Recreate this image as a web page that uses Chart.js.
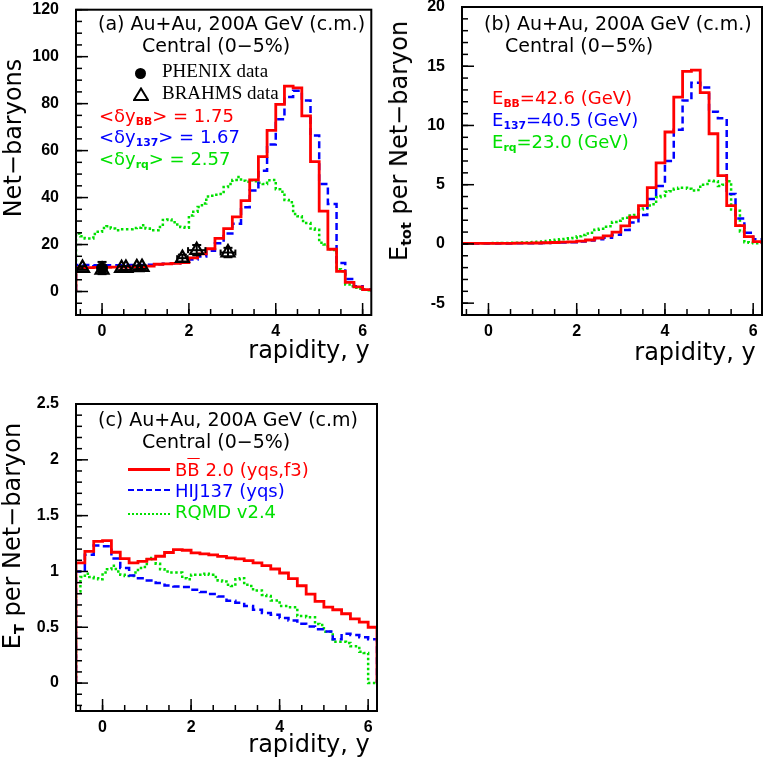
<!DOCTYPE html>
<html lang="en">
<head>
<meta charset="UTF-8">
<title>Net-baryons and energy per net-baryon vs rapidity</title>
<script src="https://cdn.jsdelivr.net/npm/chart.js@4.4.0/dist/chart.umd.min.js"></script>
<style>
  *{margin:0;padding:0;box-sizing:border-box;}
  body{width:763px;height:763px;background:#fff;position:relative;overflow:hidden;font-family:'DejaVu Sans',sans-serif;color:#000;}
  canvas{position:absolute;}
  .t{position:absolute;white-space:nowrap;line-height:1;font-size:18px;}
  .h{font-size:19px;}
  .s{position:absolute;white-space:nowrap;line-height:1;font-size:19px;font-family:'Liberation Serif',serif;}
  .ax{position:absolute;white-space:nowrap;line-height:1;font-size:24px;}
  .rot{transform:translate(-50%,-50%) rotate(-90deg);}
  .hc{transform:translateX(-50%);}
  sub{font-size:60%;line-height:0;vertical-align:-0.3em;font-weight:bold;}
  .red{color:#f00;} .blue{color:#00f;} .green{color:#00e000;}
  .dot{position:absolute;width:11px;height:11px;border-radius:50%;background:#000;}
  .mk{position:absolute;}
  .lg{position:absolute;width:42px;height:0;}
  .ov{text-decoration:overline;}
</style>
</head>
<body>
<canvas id="pa" width="381" height="381" style="left:0;top:0"></canvas>
<canvas id="pb" width="382" height="381" style="left:381px;top:0"></canvas>
<canvas id="pc" width="381" height="382" style="left:0;top:381px"></canvas>

<!-- panel (a) texts -->
<div class="ax rot" style="left:12.5px;top:137.5px">Net−baryons</div>
<div class="ax hc" style="left:309px;top:338px">rapidity, y</div>
<div class="t h" style="left:98px;top:13.5px">(a) Au+Au, 200A GeV (c.m.)</div>
<div class="t h" style="left:142px;top:36px">Central (0−5%)</div>
<div class="dot" style="left:134.5px;top:67.5px"></div>
<div class="s" style="left:162px;top:61.4px">PHENIX data</div>
<svg class="mk" style="left:133px;top:87px" width="16" height="14"><polygon points="8,1.5 15,13 1,13" fill="none" stroke="#000" stroke-width="2"/></svg>
<div class="s" style="left:162px;top:83.4px">BRAHMS data</div>
<div class="t red" style="left:99px;top:106.5px">&lt;δy<sub>BB</sub>&gt; = 1.75</div>
<div class="t blue" style="left:99px;top:128px">&lt;δy<sub>137</sub>&gt; = 1.67</div>
<div class="t green" style="left:99px;top:149.8px">&lt;δy<sub>rq</sub>&gt; = 2.57</div>

<!-- panel (b) texts -->
<div class="ax rot" style="left:398.5px;top:141px">E<sub>tot</sub> per Net−baryon</div>
<div class="ax hc" style="left:695px;top:339.7px">rapidity, y</div>
<div class="t h" style="left:484px;top:14.3px">(b) Au+Au, 200A GeV (c.m.)</div>
<div class="t h" style="left:505px;top:36px">Central (0−5%)</div>
<div class="t red" style="left:492px;top:88.8px">E<sub>BB</sub>=42.6 (GeV)</div>
<div class="t blue" style="left:492px;top:110.8px">E<sub>137</sub>=40.5 (GeV)</div>
<div class="t green" style="left:492px;top:132.5px">E<sub>rq</sub>=23.0 (GeV)</div>

<!-- panel (c) texts -->
<div class="ax rot" style="left:12px;top:536px">E<sub>T</sub> per Net−baryon</div>
<div class="ax hc" style="left:309px;top:732.4px">rapidity, y</div>
<div class="t h" style="left:98px;top:410.3px">(c) Au+Au, 200A GeV (c.m)</div>
<div class="t h" style="left:142px;top:431.5px">Central (0−5%)</div>
<div class="lg" style="left:128px;top:468px;border-top:3px solid #f00"></div>
<div class="t red" style="left:175px;top:460.5px">B<span class="ov">B</span> 2.0 (yqs,f3)</div>
<div class="lg" style="left:128px;top:489px;border-top:2.5px dashed #00f"></div>
<div class="t blue" style="left:175px;top:481.5px">HIJ137 (yqs)</div>
<div class="lg" style="left:128px;top:513px;border-top:2.5px dotted #00e000"></div>
<div class="t green" style="left:175px;top:503px">RQMD v2.4</div>

<script>
// histogram binning (left edge of first bin, bin widths)
const X_MIN = -0.6;
const WIDE = 0.2;   // red / blue histograms
const FINE = 0.1;   // green histograms

// x axis ticks (same for all panels)
const xTickVals = [0, 2, 4, 6];
const xTickLabels = ['0', '2', '4', '6'];

// ---- panel (a): net-baryons ----
const yTickValsA = [0, 20, 40, 60, 80, 100, 120];
const yTickLabelsA = ['0', '20', '40', '60', '80', '100', '120'];
const redA = [10.2, 10.2, 10.3, 10.3, 10.4, 10.4, 10.5, 10.6, 10.8, 11.6, 11.8, 12.0, 12.3, 14.3, 16.0, 18.2,
  22.6, 26.8, 31.8, 38.7, 47.5, 57.4, 68.6, 79.7, 87.5, 86.7, 74.8, 55.3, 34.2, 18.0, 8.6, 3.9, 2.0, 0.8];
const blueA = [11.3, 11.3, 11.2, 11.2, 11.2, 11.2, 11.3, 11.3, 11.4, 11.6, 11.8, 12.0, 12.5, 13.6, 14.9, 17.4,
  20.5, 24.7, 28.9, 35.9, 43.0, 51.4, 62.6, 73.4, 82.8, 85.5, 81.3, 66.4, 45.8, 37.3, 12.1, 5.3, 2.2, 0.9];
const greenA = [24.7, 23.5, 22.6, 22.6, 24.5, 25.4,
  27.0, 27.8, 26.8, 26.1, 26.5, 26.5, 26.5, 27.0, 27.2, 28.2,
  26.8, 26.1, 26.1, 27.5, 30.5, 30.7, 29.5, 28.5, 27.5, 27.2,
  32.4, 34.0, 36.0, 37.5, 40.5, 40.8, 41.2, 41.5, 44.5, 45.8,
  47.5, 48.8, 47.2, 46.7, 47.4, 47.0, 46.3, 45.8, 47.4, 47.5,
  43.5, 42.5, 39.0, 38.0, 33.0, 32.0, 30.0, 29.2, 26.8, 26.3,
  20.8, 20.0, 18.0, 17.7, 9.5, 8.6, 3.0, 2.2, 1.6, 1.2,
  0.8, 0.5];
const phenixX = [0.0];
const phenixY = [10.0];
const phenixErrY = [2.6];
const brahmsX = [-0.45, 0.0, 0.45, 0.55, 0.8, 0.92, 1.85, 2.18, 2.9];
const brahmsY = [10.0, 9.2, 9.9, 10.0, 10.3, 10.4, 14.2, 17.6, 16.6];
const brahmsErrY = [0.8, 1.0, 0.8, 0.8, 0.8, 0.8, 1.5, 2.2, 2.0];
const brahmsErrX = [0, 0, 0, 0, 0, 0, 0.12, 0.2, 0.17];

// ---- panel (b): total energy per net-baryon ----
const yTickValsB = [-5, 0, 5, 10, 15, 20];
const yTickLabelsB = ['-5', '0', '5', '10', '15', '20'];
const redB = [0.05, 0.05, 0.05, 0.05, 0.05, 0.05, 0.06, 0.07, 0.08, 0.1, 0.12, 0.15, 0.18, 0.23, 0.33, 0.5,
  0.68, 0.99, 1.52, 2.25, 3.24, 4.76, 6.85, 9.45, 12.4, 14.57, 14.67, 12.77, 9.3, 5.77, 3.24, 1.55, 0.62, 0.2];
const blueB = [0.04, 0.04, 0.04, 0.04, 0.04, 0.04, 0.05, 0.05, 0.06, 0.07, 0.09, 0.11, 0.14, 0.2, 0.28, 0.4,
  0.53, 0.78, 1.18, 1.8, 2.45, 3.8, 4.9, 7.0, 9.64, 12.1, 13.6, 13.2, 11.15, 10.6, 4.22, 2.15, 0.95, 0.4];
const greenB = [0.05, 0.05, 0.05, 0.05, 0.05, 0.06,
  0.06, 0.07, 0.07, 0.08, 0.08, 0.09, 0.1, 0.11, 0.12, 0.14,
  0.16, 0.18, 0.21, 0.25, 0.3, 0.35, 0.39, 0.42, 0.47, 0.5,
  0.65, 0.75, 0.88, 0.95, 1.2, 1.28, 1.45, 1.5, 1.85, 1.95,
  2.15, 2.2, 2.4, 2.45, 2.9, 3.0, 3.25, 3.35, 3.95, 4.05,
  4.4, 4.45, 4.65, 4.75, 4.75, 4.65, 4.5, 4.55, 5.0, 5.05,
  5.33, 5.3, 4.9, 5.0, 5.3, 2.9, 2.8, 1.05, 0.15, 0.1,
  0.05, 0.05];

// ---- panel (c): transverse energy per net-baryon ----
const yTickValsC = [0, 0.5, 1, 1.5, 2, 2.5];
const yTickLabelsC = ['0', '0.5', '1', '1.5', '2', '2.5'];
const redC = [1.076, 1.18, 1.27, 1.277, 1.172, 1.115, 1.076, 1.09, 1.11, 1.136, 1.17, 1.196, 1.19, 1.166, 1.157, 1.148,
  1.135, 1.122, 1.112, 1.097, 1.076, 1.052, 1.022, 0.986, 0.935, 0.872, 0.797, 0.732, 0.681, 0.657, 0.621, 0.576, 0.546, 0.5];
const blueC = [1.0, 1.15, 1.232, 1.226, 1.115, 1.03, 0.963, 0.94, 0.92, 0.896, 0.875, 0.866, 0.86, 0.836, 0.815, 0.797,
  0.776, 0.737, 0.72, 0.69, 0.657, 0.627, 0.612, 0.582, 0.561, 0.531, 0.507, 0.483, 0.462, 0.393, 0.441, 0.43, 0.41, 0.393];
const greenC = [0.82, 0.95, 0.98, 0.95, 0.94, 0.93,
  0.99, 1.02, 1.05, 1.0, 0.97, 0.96, 0.96, 0.99, 1.03, 1.04,
  1.11, 1.12, 1.07, 1.02, 1.0, 0.99, 0.99, 0.99, 0.94, 0.93,
  0.97, 0.97, 0.97, 0.98, 0.97, 0.95, 0.92, 0.91, 0.88, 0.87,
  0.93, 0.94, 0.88, 0.87, 0.83, 0.83, 0.79, 0.78, 0.74, 0.74,
  0.69, 0.69, 0.68, 0.68, 0.6, 0.6, 0.59, 0.59, 0.53, 0.52,
  0.46, 0.46, 0.37, 0.37, 0.37, 0.36, 0.33, 0.33, 0.28, 0.27,
  0, 0];

// histogram outline: up from 0 at the first edge, flat tops, back to 0 at the last edge
function outline(values, width) {
  const pts = [{x: X_MIN, y: 0}];
  values.forEach((v, i) => {
    const lo = +(X_MIN + i * width).toFixed(3), hi = +(X_MIN + (i + 1) * width).toFixed(3);
    pts.push({x: lo, y: v}, {x: hi, y: v});
  });
  pts.push({x: pts[pts.length - 1].x, y: 0});
  return pts;
}

const RED = '#ff0000', BLUE = '#0000ff', GREEN = '#00e000';
function histSets(red, blue, green) {
  return [
    {data: outline(red, WIDE), borderColor: RED, borderWidth: 2.8},
    {data: outline(blue, WIDE), borderColor: BLUE, borderWidth: 2.5, borderDash: [7, 4]},
    {data: outline(green, FINE), borderColor: GREEN, borderWidth: 2.5, borderDash: [2.5, 2.5]}
  ].map(d => Object.assign({pointRadius: 0, fill: false, tension: 0, borderCapStyle: 'butt'}, d));
}

// inside ticks + frame, ROOT style
const frameTicks = {
  id: 'frameTicks',
  afterDatasetsDraw(chart, args, o) {
    const {ctx, chartArea: a, scales: {x, y}} = chart;
    ctx.save();
    ctx.strokeStyle = '#000';
    ctx.lineWidth = 1.5;
    const tickY = (v, len) => {
      const p = y.getPixelForValue(v);
      ctx.beginPath(); ctx.moveTo(a.left, p); ctx.lineTo(a.left + len, p); ctx.stroke();
    };
    const tickX = (v, len) => {
      const p = x.getPixelForValue(v);
      ctx.beginPath(); ctx.moveTo(p, a.bottom); ctx.lineTo(p, a.bottom - len); ctx.stroke();
    };
    for (let k = Math.ceil(y.min / o.yMinor - 1e-6); k * o.yMinor <= y.max + 1e-6; k++) tickY(k * o.yMinor, 6);
    for (let k = Math.ceil(x.min / o.xMinor - 1e-6); k * o.xMinor <= x.max + 1e-6; k++) tickX(k * o.xMinor, 6);
    y.ticks.forEach(t => tickY(t.value, 12));
    x.ticks.forEach(t => tickX(t.value, 12));
    ctx.lineWidth = 2;
    ctx.strokeRect(a.left, a.top, a.width, a.height);
    ctx.restore();
  }
};

// error bars drawn just under their markers
const errorBars = {
  id: 'errorBars',
  beforeDatasetDraw(chart, args) {
    const ds = chart.data.datasets[args.index];
    if (!ds.errY) return;
    const {ctx, scales: {x, y}} = chart;
    ctx.save();
    ctx.strokeStyle = '#000';
    ctx.lineWidth = 2;
    const seg = (x1, y1, x2, y2) => { ctx.beginPath(); ctx.moveTo(x1, y1); ctx.lineTo(x2, y2); ctx.stroke(); };
    args.meta.data.forEach((el, i) => {
      const d = ds.data[i];
      const ey = ds.errY[i], ex = ds.errX ? ds.errX[i] : 0;
      if (ey) {
        const y1 = y.getPixelForValue(d.y + ey), y2 = y.getPixelForValue(d.y - ey);
        seg(el.x, y1, el.x, y2);
        seg(el.x - 4.5, y1, el.x + 4.5, y1);
        seg(el.x - 4.5, y2, el.x + 4.5, y2);
      }
      if (ex) {
        const x1 = x.getPixelForValue(d.x - ex), x2 = x.getPixelForValue(d.x + ex);
        seg(x1, el.y, x2, el.y);
        seg(x1, el.y - 3, x1, el.y + 3);
        seg(x2, el.y - 3, x2, el.y + 3);
      }
    });
    ctx.restore();
  }
};

const tickFont = {family: 'Liberation Sans', weight: 'bold', size: 16};

function panel(id, area, yMin, yMax, yVals, yLabels, yMinor, datasets) {
  const cv = document.getElementById(id);
  const W = cv.width, H = cv.height;
  return new Chart(cv, {
    type: 'line',
    data: {datasets},
    options: {
      responsive: false,
      animation: false,
      events: [],
      layout: {padding: {left: 0, top: area.t, right: W - area.r, bottom: 0}},
      plugins: {legend: {display: false}, tooltip: {enabled: false},
        frameTicks: {yMinor, xMinor: 0.5}},
      scales: {
        x: {
          type: 'linear', min: X_MIN, max: 6.2,
          afterBuildTicks: s => { s.ticks = xTickVals.map(v => ({value: v})); },
          afterFit: s => { s.height = H - area.b; s.paddingLeft = 0; s.paddingRight = 0; },
          ticks: {callback: (v, i) => xTickLabels[i], color: '#000', font: tickFont,
            padding: 7, maxRotation: 0, autoSkip: false},
          grid: {display: false, drawTicks: false, tickLength: 0},
          border: {display: false}
        },
        y: {
          type: 'linear', min: yMin, max: yMax,
          afterBuildTicks: s => { s.ticks = yVals.map(v => ({value: v})); },
          afterFit: s => { s.width = area.l; s.paddingTop = 0; s.paddingBottom = 0; },
          ticks: {callback: (v, i) => yLabels[i], color: '#000', font: tickFont, padding: 17, autoSkip: false},
          grid: {display: false, drawTicks: false, tickLength: 0},
          border: {display: false}
        }
      }
    },
    plugins: [frameTicks, errorBars]
  });
}

const markerSets = [
  {data: phenixX.map((x, i) => ({x, y: phenixY[i]})), errY: phenixErrY, showLine: false,
    pointStyle: 'circle', pointRadius: 5.5, pointBackgroundColor: '#000', pointBorderColor: '#000', pointBorderWidth: 1},
  {data: brahmsX.map((x, i) => ({x, y: brahmsY[i]})), errY: brahmsErrY, errX: brahmsErrX, showLine: false,
    pointStyle: 'triangle', pointRadius: 7.5, pointBackgroundColor: 'rgba(255,255,255,0)', pointBorderColor: '#000', pointBorderWidth: 2.2}
];

panel('pa', {l: 76, t: 7, r: 377, b: 315}, -10, 120, yTickValsA, yTickLabelsA, 5,
  markerSets.concat(histSets(redA, blueA, greenA)));
panel('pb', {l: 81, t: 7, r: 381, b: 315}, -6, 20, yTickValsB, yTickLabelsB, 1,
  histSets(redB, blueB, greenB));
panel('pc', {l: 76, t: 23, r: 377, b: 330}, -0.25, 2.5, yTickValsC, yTickLabelsC, 0.1,
  histSets(redC, blueC, greenC));
</script>
</body>
</html>
